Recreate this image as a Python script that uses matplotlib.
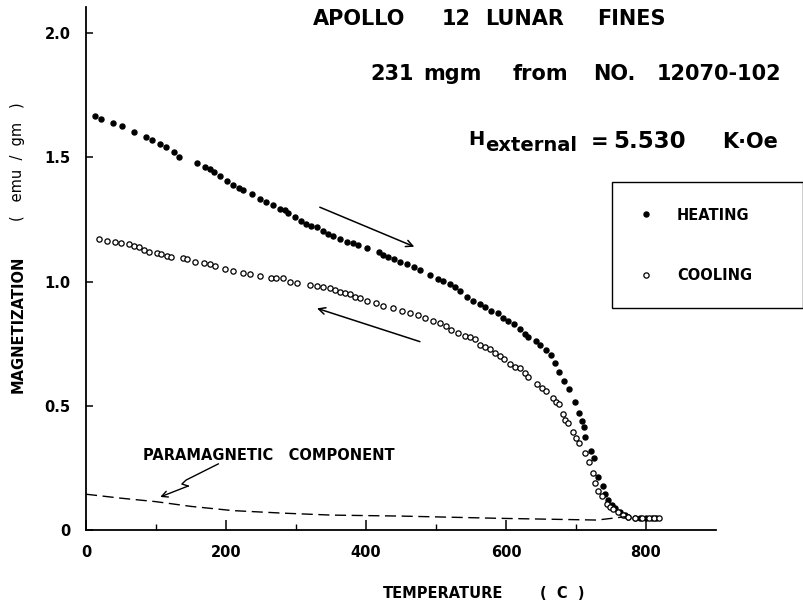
import matplotlib
matplotlib.use("Agg")
import matplotlib.pyplot as plt

plt.rcParams['font.family'] = ['DejaVu Sans']

# ---------------- data ----------------
heat_T = [13, 21, 39, 52, 68, 86, 94, 106, 114, 126, 133, 158, 170, 177, 183, 191,
          201, 210, 219, 225, 237, 249, 257, 267, 277, 284, 289, 299, 307, 315, 322,
          330, 339, 346, 353, 363, 373, 381, 389, 401, 418, 425, 432, 440, 449, 458,
          468, 477, 491, 503, 510, 520, 527, 534, 544, 553, 563, 570, 579, 588, 596,
          603, 611, 620, 627, 631, 643, 648, 657, 664, 670, 676, 683, 690, 699, 704,
          708, 711, 713, 722, 726, 732, 738, 741, 746, 751, 756, 763, 770, 775, 784,
          792, 800, 808, 815]
heat_M = [1.667, 1.654, 1.639, 1.626, 1.603, 1.583, 1.569, 1.552, 1.540, 1.520, 1.500,
          1.476, 1.462, 1.453, 1.442, 1.425, 1.404, 1.388, 1.378, 1.368, 1.352, 1.332,
          1.321, 1.308, 1.292, 1.287, 1.277, 1.258, 1.245, 1.231, 1.223, 1.218, 1.203,
          1.191, 1.184, 1.171, 1.160, 1.154, 1.147, 1.134, 1.120, 1.107, 1.097, 1.089,
          1.080, 1.069, 1.057, 1.046, 1.026, 1.009, 1.001, 0.989, 0.978, 0.962, 0.937,
          0.921, 0.909, 0.899, 0.883, 0.872, 0.852, 0.841, 0.828, 0.808, 0.789, 0.775,
          0.762, 0.745, 0.724, 0.704, 0.673, 0.637, 0.599, 0.566, 0.516, 0.472, 0.440,
          0.416, 0.373, 0.318, 0.288, 0.214, 0.177, 0.145, 0.121, 0.101, 0.087, 0.074,
          0.060, 0.054, 0.050, 0.049, 0.048, 0.047, 0.047]

cool_T = [18, 30, 41, 50, 62, 69, 76, 83, 90, 101, 107, 116, 122, 138, 144, 156, 168,
          177, 184, 199, 210, 225, 234, 249, 265, 272, 281, 291, 301, 320, 330, 339,
          348, 356, 363, 370, 377, 384, 391, 401, 415, 425, 439, 451, 463, 475, 484,
          496, 506, 515, 522, 532, 541, 549, 556, 563, 570, 577, 584, 591, 597, 606,
          613, 620, 627, 632, 644, 652, 657, 667, 671, 676, 681, 684, 689, 696, 700,
          704, 713, 719, 724, 727, 732, 737, 744, 749, 753, 760, 767, 775, 785, 795,
          805, 812, 819]
cool_M = [1.170, 1.164, 1.160, 1.154, 1.150, 1.144, 1.140, 1.127, 1.120, 1.113, 1.111,
          1.103, 1.097, 1.093, 1.091, 1.080, 1.073, 1.070, 1.064, 1.050, 1.044, 1.035,
          1.030, 1.023, 1.013, 1.015, 1.013, 0.999, 0.995, 0.986, 0.983, 0.979, 0.973,
          0.966, 0.959, 0.955, 0.948, 0.939, 0.932, 0.923, 0.912, 0.901, 0.892, 0.883,
          0.872, 0.865, 0.852, 0.842, 0.832, 0.819, 0.803, 0.794, 0.782, 0.775, 0.767,
          0.744, 0.735, 0.727, 0.713, 0.700, 0.688, 0.668, 0.657, 0.651, 0.633, 0.617,
          0.586, 0.570, 0.558, 0.530, 0.516, 0.507, 0.467, 0.443, 0.432, 0.396, 0.369,
          0.351, 0.311, 0.272, 0.231, 0.188, 0.158, 0.137, 0.103, 0.094, 0.083, 0.074,
          0.060, 0.054, 0.049, 0.048, 0.048, 0.047, 0.047]

para_T = [0, 50, 100, 150, 210, 280, 350, 450, 590, 730, 772]
para_M = [0.144, 0.128, 0.114, 0.095, 0.078, 0.068, 0.060, 0.056, 0.047, 0.040, 0.054]

x_ticks = [0, 200, 400, 600, 800]
x_minor = [100, 300, 500, 700]
y_ticks = [0, 0.5, 1.0, 1.5, 2.0]
y_labels = ['0', '0.5', '1.0', '1.5', '2.0']

# ---------------- figure ----------------
W, H = 804, 608
fig = plt.figure(figsize=(W / 100, H / 100), dpi=100)


def fx(px):
    return px / W


def fy(py):
    return 1 - py / H


ax = fig.add_axes([fx(86), fy(530), 630 / W, 523 / H])
ax.set_xlim(0, 900)
ax.set_ylim(0, 523 / 248.5)

for s in ['top', 'right']:
    ax.spines[s].set_visible(False)
for s in ['left', 'bottom']:
    ax.spines[s].set_linewidth(1.3)
    ax.spines[s].set_color('black')

ax.set_xticks(x_ticks)
ax.set_xticks(x_minor, minor=True)
ax.set_yticks(y_ticks)
ax.set_yticklabels(y_labels)
ax.tick_params(axis='x', which='major', direction='in', length=7, width=1.1,
               pad=11, labelsize=10.5)
ax.tick_params(axis='x', which='minor', direction='in', length=4, width=1.0)
ax.tick_params(axis='y', which='major', direction='in', length=5, width=1.1,
               pad=11, labelsize=10.5)
for lab in ax.get_xticklabels() + ax.get_yticklabels():
    lab.set_fontweight('bold')

# data
h_line, = ax.plot(heat_T, heat_M, linestyle='none', marker='o', markersize=3.6,
                  markerfacecolor='black', markeredgecolor='black', clip_on=False)
c_line, = ax.plot(cool_T, cool_M, linestyle='none', marker='o', markersize=3.8,
                  markerfacecolor='white', markeredgecolor='black',
                  markeredgewidth=0.9, clip_on=False)
ax.plot(para_T, para_M, color='black', linewidth=1.0, dashes=(8, 4))

# direction arrows
ax.annotate('', xy=(469, 1.140), xytext=(334, 1.299),
            arrowprops=dict(arrowstyle='->', color='black', lw=1.1,
                            shrinkA=0, shrinkB=0, mutation_scale=12))
ax.annotate('', xy=(330, 0.892), xytext=(477, 0.758),
            arrowprops=dict(arrowstyle='->', color='black', lw=1.1,
                            shrinkA=0, shrinkB=0, mutation_scale=12))

# paramagnetic annotation (zig-zag pointer)
zz_T = [189, 143, 137, 146]
zz_M = [0.266, 0.201, 0.185, 0.177]
ax.plot(zz_T, zz_M, color='black', linewidth=1.0)
ax.annotate('', xy=(106, 0.133), xytext=(146, 0.177),
            arrowprops=dict(arrowstyle='->', color='black', lw=1.0,
                            shrinkA=0, shrinkB=0, mutation_scale=11))
ax.text(81, 0.30, 'PARAMAGNETIC   COMPONENT', fontsize=10.5, fontweight='bold',
        ha='left', va='center')

# legend
leg = fig.legend([h_line, c_line], ['HEATING', 'COOLING'],
                 loc='upper left',
                 bbox_to_anchor=(fx(612), fy(318), 191 / W, 136 / H),
                 mode='expand', numpoints=1, fontsize=10.5,
                 borderpad=1.75, labelspacing=3.1, handlelength=1.1,
                 handletextpad=1.6, fancybox=False, frameon=True,
                 framealpha=1.0, borderaxespad=0)
leg.get_frame().set_edgecolor('black')
leg.get_frame().set_linewidth(1.0)
for t in leg.get_texts():
    t.set_fontweight('bold')

# titles
tfs = 15
for word, x in [('APOLLO', 313), ('12', 442), ('LUNAR', 485), ('FINES', 597)]:
    fig.text(fx(x), fy(25), word, fontsize=tfs, fontweight='bold',
             ha='left', va='baseline')
for word, x in [('231', 370), ('mgm', 423), ('from', 513), ('NO.', 593),
                ('12070-102', 657)]:
    fig.text(fx(x), fy(80), word, fontsize=tfs, fontweight='bold',
             ha='left', va='baseline')
fig.text(fx(468), fy(145), 'H', fontsize=14, fontweight='bold',
         ha='left', va='baseline')
fig.text(fx(485), fy(151), 'external', fontsize=14, fontweight='bold',
         ha='left', va='baseline')
fig.text(fx(591), fy(148), '=', fontsize=tfs, fontweight='bold',
         ha='left', va='baseline')
fig.text(fx(613), fy(148), '5.530', fontsize=16.5, fontweight='bold',
         ha='left', va='baseline')
fig.text(fx(722), fy(148), 'K·Oe', fontsize=tfs, fontweight='bold',
         ha='left', va='baseline')

# axis labels
fig.text(fx(18), fy(324), 'MAGNETIZATION', rotation=90, fontsize=10.5,
         fontweight='bold', ha='center', va='center')
fig.text(fx(18), fy(162), '(   emu  /  gm   )', rotation=90, fontsize=10.5,
         ha='center', va='center')
fig.text(fx(383), fy(593), 'TEMPERATURE', fontsize=10.5, fontweight='bold',
         ha='left', va='center')
fig.text(fx(540), fy(593), '(  C  )', fontsize=10.5, fontweight='bold',
         ha='left', va='center')

fig.savefig('out.png', dpi=100)
